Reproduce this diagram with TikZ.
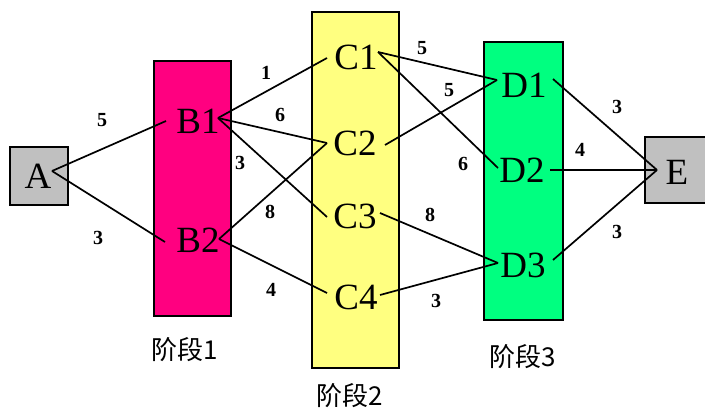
\documentclass[tikz,border=0pt]{standalone}
\usepackage{fontspec}
\setmainfont{Liberation Serif}
\newfontfamily\cjk{Noto Sans CJK SC}
\definecolor{stagepink}{HTML}{FF0080}
\definecolor{stageyellow}{HTML}{FFFF80}
\definecolor{stagegreen}{HTML}{00FF80}
\definecolor{endgray}{HTML}{C0C0C0}
\begin{document}
\begin{tikzpicture}[x=1pt,y=-1pt,
  stagebox/.style={draw=black,line width=2.2pt},
  endbox/.style={draw=black,line width=2.2pt,fill=endgray},
  vlabel/.style={font=\fontsize{37}{37}\selectfont,inner sep=0pt},
  wlabel/.style={font=\fontsize{20}{20}\selectfont\bfseries,inner sep=0pt},
  slabel/.style={font=\cjk\fontsize{26}{26}\selectfont,inner sep=0pt},
  edge/.style={line width=1.7pt}]
\useasboundingbox (0,0) rectangle (705,412);
% boxes
\draw[endbox] (10,147) rectangle (68,205);
\draw[endbox] (645,137) rectangle (712,203);
\draw[stagebox,fill=stagepink] (154,61) rectangle (231,316);
\draw[stagebox,fill=stageyellow] (312,12) rectangle (399,368);
\draw[stagebox,fill=stagegreen] (484,42) rectangle (563,320);
% vertex labels
\node[vlabel] (A) at (38,176) {A};
\node[vlabel] (B1) at (198,121) {B1};
\node[vlabel] (B2) at (198,240) {B2};
\node[vlabel] (C1) at (356,57) {C1};
\node[vlabel] (C2) at (355,143) {C2};
\node[vlabel] (C3) at (355,216) {C3};
\node[vlabel] (C4) at (356,297) {C4};
\node[vlabel] (D1) at (524,85) {D1};
\node[vlabel] (D2) at (522,170) {D2};
\node[vlabel] (D3) at (523,265) {D3};
\node[vlabel] (E) at (677,172) {E};
% connection points
\coordinate (Ae) at (52,171);
\coordinate (B1w) at (166,121);
\coordinate (B2w) at (165,242);
\coordinate (B1e) at (218,118);
\coordinate (B2e) at (219,239);
\coordinate (C1w) at (327,58);
\coordinate (C1e) at (378,52);
\coordinate (C2w) at (327,143);
\coordinate (C2e) at (385,145);
\coordinate (C3w) at (327,217);
\coordinate (C3e) at (380,213);
\coordinate (C4w) at (327,293);
\coordinate (C4e) at (380,295);
\coordinate (D1w) at (497,80);
\coordinate (D1e) at (553,79);
\coordinate (D2w) at (498,168);
\coordinate (D2e) at (550,170);
\coordinate (D3w) at (498,263);
\coordinate (D3e) at (553,260);
\coordinate (Ew) at (657,170);
% edges
\draw[edge] (Ae) -- (B1w);
\draw[edge] (Ae) -- (B2w);
\draw[edge] (B1e) -- (C1w);
\draw[edge] (B1e) -- (C2w);
\draw[edge] (B1e) -- (C3w);
\draw[edge] (B2e) -- (C2w);
\draw[edge] (B2e) -- (C4w);
\draw[edge] (C1e) -- (D1w);
\draw[edge] (C1e) -- (D2w);
\draw[edge] (C2e) -- (D1w);
\draw[edge] (C3e) -- (D3w);
\draw[edge] (C4e) -- (D3w);
\draw[edge] (D1e) -- (Ew);
\draw[edge] (D2e) -- (Ew);
\draw[edge] (D3e) -- (Ew);
% weights
\node[wlabel] (wAB1) at (102,120) {5};
\node[wlabel] (wAB2) at (98,238) {3};
\node[wlabel] (wB1C1) at (266,73) {1};
\node[wlabel] (wB1C2) at (280,115) {6};
\node[wlabel] (wB1C3) at (240,163) {3};
\node[wlabel] (wB2C2) at (270,212) {8};
\node[wlabel] (wB2C4) at (271,290) {4};
\node[wlabel] (wC1D1) at (422,48) {5};
\node[wlabel] (wC2D1) at (449,90) {5};
\node[wlabel] (wC1D2) at (463,164) {6};
\node[wlabel] (wC3D3) at (430,215) {8};
\node[wlabel] (wC4D3) at (436,301) {3};
\node[wlabel] (wD1E) at (617,107) {3};
\node[wlabel] (wD2E) at (580,150) {4};
\node[wlabel] (wD3E) at (617,232) {3};
% stage labels
\node[slabel] (S1) at (185,350) {阶段1};
\node[slabel] (S2) at (350,396) {阶段2};
\node[slabel] (S3) at (523,357) {阶段3};
\end{tikzpicture}
\end{document}
